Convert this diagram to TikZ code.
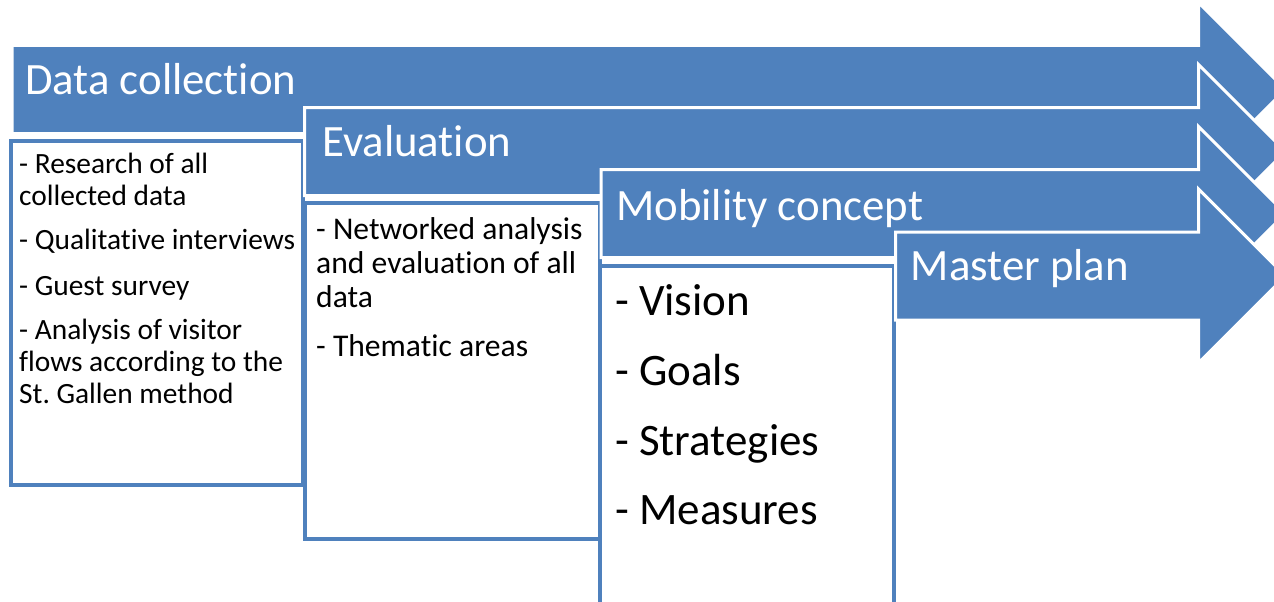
\documentclass[tikz,border=0pt]{standalone}
\usepackage{fontspec}
\setmainfont{Carlito}[Ligatures={NoCommon}]
\definecolor{accent}{HTML}{4F81BD}
\frenchspacing
\begin{document}
\begin{tikzpicture}[x=1pt,y=-1pt,
  arrowshape/.style={fill=accent,draw=white,line width=3pt,line join=miter},
  boxshape/.style={fill=white,draw=accent,line width=4pt},
  title/.style={anchor=base west,inner sep=0pt,text=white,font=\fontsize{44.8}{44.8}\selectfont},
  itemA/.style={anchor=base west,inner sep=0pt,font=\fontsize{29.4}{29.4}\selectfont},
  itemB/.style={anchor=base west,inner sep=0pt,font=\fontsize{31.6}{31.6}\selectfont},
  itemC/.style={anchor=base west,inner sep=0pt,font=\fontsize{45}{45}\selectfont}]
\useasboundingbox (0,0) rectangle (1274,602);
\clip (0,0) rectangle (1274,602);
% arrow 1
\draw[arrowshape] (12,45.5) -- (1198.5,45.5) -- (1198.5,2.5) -- (1285.5,89.5) -- (1198.5,176.5) -- (1198.5,133.5) -- (12,133.5) -- cycle;
\draw[boxshape] (10.5,140.5) rectangle (302.5,485);
% arrow 2
\draw[arrowshape] (304.5,107.5) -- (1198.5,107.5) -- (1198.5,64.5) -- (1285.5,151.5) -- (1198.5,238.5) -- (1198.5,195.5) -- (304.5,195.5) -- cycle;
\draw[boxshape] (304.5,203) rectangle (599.5,539);
% arrow 3
\draw[arrowshape] (601,169.5) -- (1198.5,169.5) -- (1198.5,126.5) -- (1285.5,213.5) -- (1198.5,300.5) -- (1198.5,257.5) -- (601,257.5) -- cycle;
\draw[boxshape] (599.5,265.5) rectangle (894,610);
% arrow 4
\draw[arrowshape] (895.5,232) -- (1198.5,232) -- (1198.5,189) -- (1285.5,276) -- (1198.5,363) -- (1198.5,320) -- (895.5,320) -- cycle;
% titles
\node[title] (t1) at (25,94) {Data collection};
\node[title] (t2) at (322,156) {Evaluation};
\node[title] (t3) at (616,220) {Mobility concept};
\node[title] (t4) at (910.5,280) {Master plan};
% box 1
\node[itemA] (a1) at (19,173.3) {- Research of all};
\node[itemA] (a2) at (19,205.6) {collected data};
\node[itemA] (a3) at (19,249.5) {- Qualitative interviews};
\node[itemA] (a4) at (19,295) {- Guest survey};
\node[itemA] (a5) at (19,339.5) {- Analysis of visitor};
\node[itemA] (a6) at (19,371.5) {flows according to the};
\node[itemA] (a7) at (19,403.5) {St. Gallen method};
% box 2
\node[itemB] (b1) at (316,239) {- Networked analysis};
\node[itemB] (b2) at (316,273.3) {and evaluation of all};
\node[itemB] (b3) at (316,307.7) {data};
\node[itemB] (b4) at (316,356.7) {- Thematic areas};
% box 3
\node[itemC] (c1) at (615,315.7) {- Vision};
\node[itemC] (c2) at (615,385) {- Goals};
\node[itemC] (c3) at (615,455) {- Strategies};
\node[itemC] (c4) at (615,524.5) {- Measures};
\end{tikzpicture}
\end{document}
